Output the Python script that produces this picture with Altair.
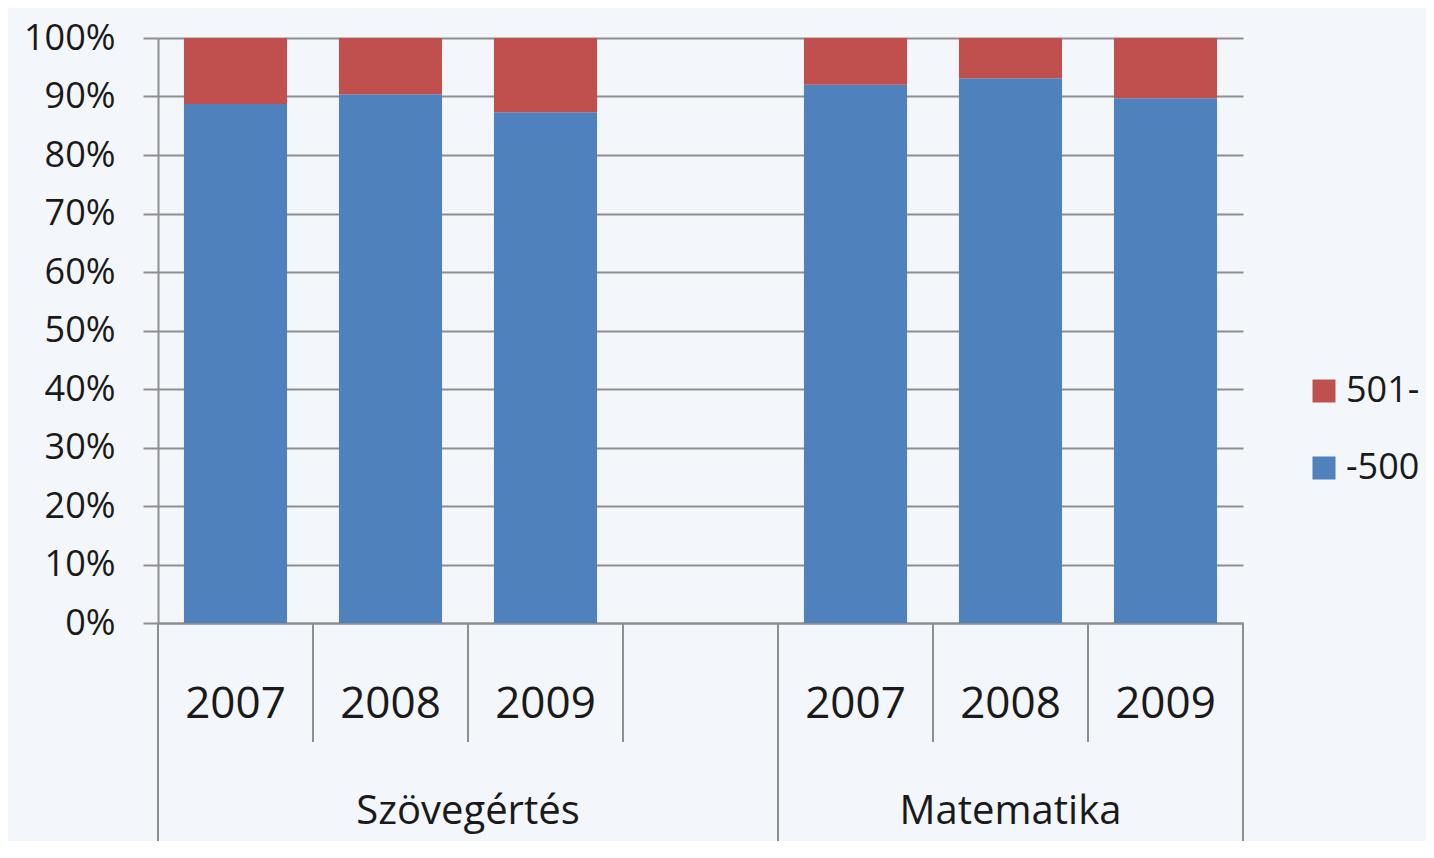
import altair as alt
import pandas as pd

# ---- data ----
groups = ["Szövegértés", "Matematika"]
prefixes = ["Sz", "Ma"]
years = ["2007", "2008", "2009"]
below_500 = [88.7, 90.4, 87.3, 92.0, 93.1, 89.7]   # "-500" share (%)
above_501 = [11.3, 9.6, 12.7, 8.0, 6.9, 10.3]      # "501-" share (%)
series = ["501-", "-500"]
colors = ["#C0504D", "#4F81BD"]
y_ticks = [0, 0.1, 0.2, 0.3, 0.4, 0.5, 0.6, 0.7, 0.8, 0.9, 1.0]

slots = [f"{prefixes[0]}-{y}" for y in years] + ["gap"] + [f"{prefixes[1]}-{y}" for y in years]

rows = []
for gi, p in enumerate(prefixes):
    for yi, yr in enumerate(years):
        i = gi * 3 + yi
        rows.append({"slot": f"{p}-{yr}", "series": "-500", "value": below_500[i], "ord": 0})
        rows.append({"slot": f"{p}-{yr}", "series": "501-", "value": above_501[i], "ord": 1})
df = pd.DataFrame(rows)

# separators of the two-level category axis
short_sep = pd.DataFrame({"slot": [f"{prefixes[0]}-{years[1]}", f"{prefixes[0]}-{years[2]}", "gap",
                                   f"{prefixes[1]}-{years[1]}", f"{prefixes[1]}-{years[2]}"]})
long_sep_start = pd.DataFrame({"slot": [f"{prefixes[0]}-{years[0]}", f"{prefixes[1]}-{years[0]}"]})
long_sep_end = pd.DataFrame({"slot": [f"{prefixes[1]}-{years[2]}"]})
grp_a = pd.DataFrame({"slot": [f"{prefixes[0]}-{years[2]}"], "label": [groups[0]]})
grp_b = pd.DataFrame({"slot": [f"{prefixes[1]}-{years[1]}"], "label": [groups[1]]})

FONT = "Open Sans"
GRID = "#8e8e8e"
TXT = "#1a1a1a"
TOP = 30
W, H = 1085, 585

x_scale = alt.Scale(domain=slots, paddingInner=0, paddingOuter=0)
x_axis = alt.Axis(title=None, ticks=False, domain=True, domainColor=GRID, domainWidth=2,
                  labelExpr="substring(datum.value, 3)", labelAngle=0, labelFont=FONT,
                  labelFontSize=44, labelColor=TXT, labelBaseline="alphabetic",
                  labelPadding=94, grid=False)


def xenc(bp=0.5):
    return alt.X("slot:N", bandPosition=bp, scale=x_scale, axis=x_axis)


bars = alt.Chart(df).mark_bar(width=alt.RelativeBandSize(0.665)).encode(
    x=xenc(),
    y=alt.Y("value:Q", stack="normalize",
            scale=alt.Scale(domain=[0, 1]),
            axis=alt.Axis(title=None, format=".0%", values=y_ticks, grid=True,
                          gridColor=GRID, gridWidth=2, tickColor=GRID, tickWidth=2,
                          tickSize=15, domainColor=GRID, domainWidth=2,
                          labelFont=FONT, labelFontSize=36, labelColor=TXT,
                          labelPadding=28)),
    color=alt.Color("series:N", scale=alt.Scale(domain=series, range=colors),
                    legend=alt.Legend(title=None, orient="none", legendX=1148, legendY=335,
                                      symbolType="square", symbolSize=529,
                                      symbolStrokeWidth=0, labelFont=FONT,
                                      labelFontSize=36, labelColor=TXT, labelOffset=4,
                                      rowPadding=41, padding=0)),
    order=alt.Order("ord:Q"),
)

short_rules = alt.Chart(short_sep).mark_rule(color=GRID, strokeWidth=2).encode(
    x=xenc(0), y=alt.value(H), y2=alt.value(H + 119))
long_rules_a = alt.Chart(long_sep_start).mark_rule(color=GRID, strokeWidth=2).encode(
    x=xenc(0), y=alt.value(H), y2=alt.value(H + 260))
long_rules_b = alt.Chart(long_sep_end).mark_rule(color=GRID, strokeWidth=2).encode(
    x=xenc(1), y=alt.value(H), y2=alt.value(H + 260))

text_a = alt.Chart(grp_a).mark_text(font=FONT, fontSize=40, baseline="alphabetic",
                                    align="center", color=TXT).encode(
    x=xenc(0), y=alt.value(824 - 8 - TOP), text="label:N")
text_b = alt.Chart(grp_b).mark_text(font=FONT, fontSize=40, baseline="alphabetic",
                                    align="center", color=TXT).encode(
    x=xenc(0.5), y=alt.value(824 - 8 - TOP), text="label:N")

chart = alt.layer(bars, short_rules, long_rules_a, long_rules_b, text_a, text_b).properties(
    width=W, height=H,
    autosize=alt.AutoSizeParams(type="none"),
    padding={"left": 150, "top": TOP, "right": 183, "bottom": 833 - TOP - H},
    background="#f3f6fb",
).configure_view(strokeWidth=0)

chart.save("out.html", embed_options={"renderer": "svg", "actions": False})
